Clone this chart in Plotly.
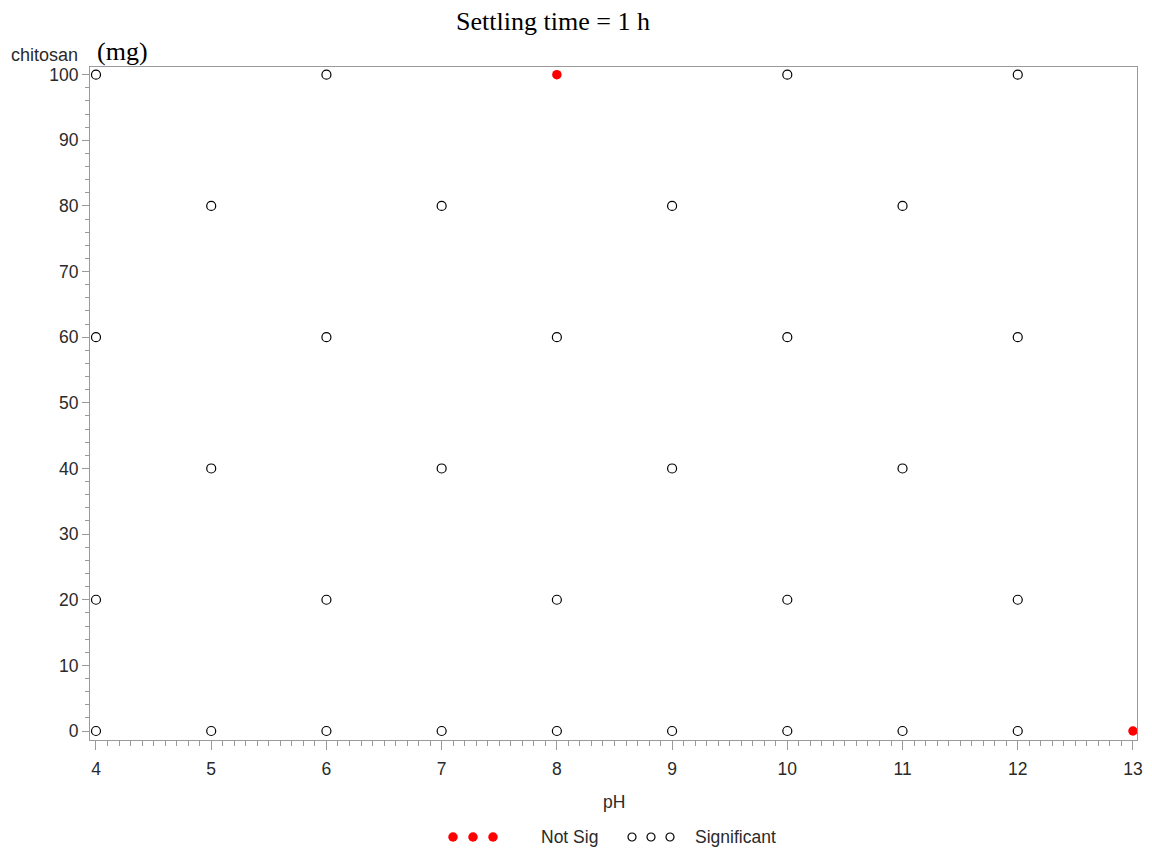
import plotly.graph_objects as go

# Design points (pH, chitosan dose in mg) grouped by test outcome
sig_ph = [4, 6, 10, 12,
          5, 7, 9, 11,
          4, 6, 8, 10, 12,
          5, 7, 9, 11,
          4, 6, 8, 10, 12,
          4, 5, 6, 7, 8, 9, 10, 11, 12]
sig_mg = [100, 100, 100, 100,
          80, 80, 80, 80,
          60, 60, 60, 60, 60,
          40, 40, 40, 40,
          20, 20, 20, 20, 20,
          0, 0, 0, 0, 0, 0, 0, 0, 0]
notsig_ph = [8, 13]
notsig_mg = [100, 0]

x_ticks = [4, 5, 6, 7, 8, 9, 10, 11, 12, 13]
y_ticks = [0, 10, 20, 30, 40, 50, 60, 70, 80, 90, 100]

AXIS_GRAY = "#9a9a9a"
TEXT = "#2a2a2a"
SANS = "Liberation Sans, Arial, sans-serif"
SERIF = "Liberation Serif, Times New Roman, serif"
FS = 17.5

W, H = 1152, 852
# plot frame in pixels
PX0, PX1, PY0, PY1 = 90, 1137, 67, 740


def fx(px):
    return px / W


def fy(py):
    return (H - py) / H


fig = go.Figure()

fig.add_trace(go.Scatter(
    x=sig_ph, y=sig_mg, mode="markers", name="Significant",
    marker=dict(symbol="circle-open", size=9, color="black",
                line=dict(color="black", width=1.2)),
    showlegend=False,
))
fig.add_trace(go.Scatter(
    x=notsig_ph, y=notsig_mg, mode="markers", name="Not Sig",
    marker=dict(symbol="circle", size=9.5, color="red", line=dict(width=0)),
    showlegend=False,
))

# Legend row drawn on a small overlay axis (pixel units) below the plot
leg_red_x = [453, 473, 493]
leg_open_x = [632, 651, 670]
fig.add_trace(go.Scatter(
    x=leg_red_x, y=[0, 0, 0], mode="markers", xaxis="x2", yaxis="y2",
    marker=dict(symbol="circle", size=9.5, color="red", line=dict(width=0)),
    showlegend=False, hoverinfo="skip", cliponaxis=False,
))
fig.add_trace(go.Scatter(
    x=leg_open_x, y=[0, 0, 0], mode="markers", xaxis="x2", yaxis="y2",
    marker=dict(symbol="circle-open", size=8, color="black",
                line=dict(color="black", width=1.2)),
    showlegend=False, hoverinfo="skip", cliponaxis=False,
))

fig.update_layout(
    width=W, height=H,
    margin=dict(l=0, r=0, t=0, b=0, autoexpand=False),
    paper_bgcolor="white", plot_bgcolor="rgba(0,0,0,0)",
    font=dict(family=SANS, size=FS, color=TEXT),
    title=dict(text="Settling time = 1 h", x=553 / W, xanchor="center",
               y=1 - 21 / H, yanchor="middle", xref="paper", yref="container",
               font=dict(family=SERIF, size=26, color="black")),
    xaxis=dict(
        domain=[fx(PX0), fx(PX1)],
        range=[3.948, 13.035], tickvals=x_ticks, ticktext=[str(v) for v in x_ticks],
        showgrid=False, zeroline=False,
        showline=True, linecolor=AXIS_GRAY, linewidth=1, mirror=True,
        ticks="outside", ticklen=9, tickcolor=AXIS_GRAY, tickwidth=1,
        minor=dict(dtick=0.1, tick0=4, ticks="outside", ticklen=5,
                   tickcolor=AXIS_GRAY, tickwidth=1, showgrid=False),
        tickfont=dict(family=SANS, size=FS, color=TEXT),
        ticklabelstandoff=4,
        fixedrange=True,
    ),
    yaxis=dict(
        domain=[fy(PY1), fy(PY0)],
        range=[-1.37, 101.17], tickvals=y_ticks, ticktext=[str(v) for v in y_ticks],
        showgrid=False, zeroline=False,
        showline=True, linecolor=AXIS_GRAY, linewidth=1, mirror=True,
        ticks="outside", ticklen=7, tickcolor=AXIS_GRAY, tickwidth=1,
        minor=dict(dtick=2, tick0=0, ticks="outside", ticklen=4,
                   tickcolor=AXIS_GRAY, tickwidth=1, showgrid=False),
        tickfont=dict(family=SANS, size=FS, color=TEXT),
        fixedrange=True,
    ),
    xaxis2=dict(domain=[0, 1], range=[0, W], anchor="y2", visible=False,
                fixedrange=True),
    yaxis2=dict(domain=[fy(842), fy(832)], range=[-1, 1], anchor="x2",
                visible=False, fixedrange=True),
)

annotations = [
    dict(text="chitosan", x=9, y=55, xanchor="left",
         font=dict(family=SANS, size=18, color=TEXT)),
    dict(text="(mg)", x=95, y=51, xanchor="left",
         font=dict(family=SERIF, size=26, color="black")),
    dict(text="pH", x=614, y=802, xanchor="center",
         font=dict(family=SANS, size=FS, color=TEXT)),
    dict(text="Not Sig", x=539, y=837, xanchor="left",
         font=dict(family=SANS, size=FS, color=TEXT)),
    dict(text="Significant", x=693, y=837, xanchor="left",
         font=dict(family=SANS, size=FS, color=TEXT)),
]
for a in annotations:
    a.update(x=fx(a["x"]), y=fy(a["y"]), xref="paper", yref="paper",
             yanchor="middle", showarrow=False)
fig.update_layout(annotations=annotations)

fig.write_html("out.html")
